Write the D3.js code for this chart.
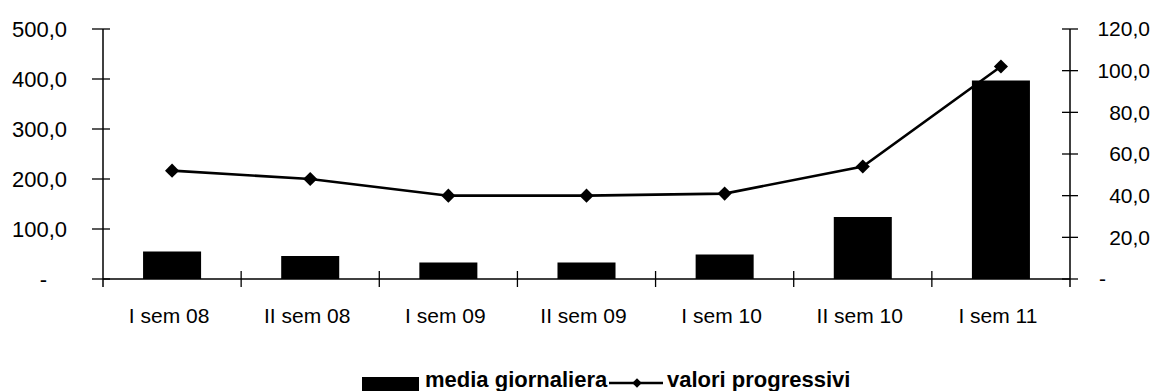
<!DOCTYPE html>
<html>
<head>
<meta charset="utf-8">
<script src="https://cdn.jsdelivr.net/npm/d3@7"></script>
<style>
  html, body { margin: 0; padding: 0; background: #fff; }
  svg { display: block; font-family: "Liberation Sans", Arial, sans-serif; }
</style>
</head>
<body>
<svg id="chart" width="1158" height="391"></svg>
<script>
const categories = ["I sem 08", "II sem 08", "I sem 09", "II sem 09", "I sem 10", "II sem 10", "I sem 11"];
const mediaGiornaliera = [55, 46, 33, 33, 49, 124, 397];
const valoriProgressivi = [52, 48, 40, 40, 41, 54, 102];
const leftTicks = [0, 100, 200, 300, 400, 500];
const rightTicks = [0, 20, 40, 60, 80, 100, 120];
const seriesNames = ["media giornaliera", "valori progressivi"];

const svg = d3.select("#chart");
const x0 = 103, x1 = 1070, yBase = 279, yTop = 29;

const fmt = v => v === 0 ? "-" : d3.format(".1f")(v).replace(".", ",");

const x = d3.scaleBand().domain(categories).range([x0, x1]).paddingInner(0.58).paddingOuter(0.29);
const yL = d3.scaleLinear().domain([0, 500]).range([yBase, yTop]);
const yR = d3.scaleLinear().domain([0, 120]).range([yBase, yTop]);

// bars
svg.append("g").selectAll("rect").data(mediaGiornaliera).join("rect")
  .attr("x", (d, i) => x(categories[i]))
  .attr("width", x.bandwidth())
  .attr("y", d => yL(d))
  .attr("height", d => yBase - yL(d))
  .attr("fill", "#000");

// x baseline
svg.append("line").attr("x1", x0).attr("x2", x1).attr("y1", yBase).attr("y2", yBase)
  .attr("stroke", "#000").attr("stroke-width", 1.3);

// category boundary ticks
const step = x.step();
const bounds = d3.range(categories.length + 1).map(i => x0 + i * step);
svg.append("g").selectAll("line").data(bounds.slice(1, -1)).join("line")
  .attr("x1", d => d).attr("x2", d => d).attr("y1", yBase - 8).attr("y2", yBase + 8)
  .attr("stroke", "#000").attr("stroke-width", 1.3);

// left axis
const gL = svg.append("g");
gL.append("line").attr("x1", x0).attr("x2", x0).attr("y1", yL(500)).attr("y2", yBase + 8)
  .attr("stroke", "#000").attr("stroke-width", 1.5);
gL.selectAll("line.t").data(leftTicks).join("line").attr("class", "t")
  .attr("x1", x0 - 11).attr("x2", x0 + 7).attr("y1", d => yL(d)).attr("y2", d => yL(d))
  .attr("stroke", "#000").attr("stroke-width", 1.3);
gL.selectAll("text").data(leftTicks).join("text")
  .attr("x", d => d === 0 ? 47 : 67).attr("y", d => yL(d))
  .attr("dy", "0.35em").attr("text-anchor", "end")
  .attr("font-size", 22).attr("fill", "#000")
  .text(fmt);

// right axis
const gR = svg.append("g");
gR.append("line").attr("x1", x1).attr("x2", x1).attr("y1", yR(120)).attr("y2", yBase + 8)
  .attr("stroke", "#000").attr("stroke-width", 1.5);
gR.selectAll("line.t").data(rightTicks).join("line").attr("class", "t")
  .attr("x1", x1 - 8).attr("x2", x1 + 8).attr("y1", d => yR(d)).attr("y2", d => yR(d))
  .attr("stroke", "#000").attr("stroke-width", 1.3);
gR.selectAll("text").data(rightTicks).join("text")
  .attr("x", d => d === 0 ? 1106 : 1150).attr("y", d => yR(d))
  .attr("dy", "0.35em").attr("text-anchor", "end")
  .attr("font-size", 21).attr("fill", "#000")
  .text(fmt);

// x labels
svg.append("g").selectAll("text").data(categories).join("text")
  .attr("x", d => x(d) + x.bandwidth() / 2 - 3).attr("y", 323)
  .attr("text-anchor", "middle").attr("font-size", 21).attr("fill", "#000")
  .text(d => d);

// line
const cx = (d, i) => x(categories[i]) + x.bandwidth() / 2;
const line = d3.line().x((d, i) => cx(d, i)).y(d => yR(d));
svg.append("path").datum(valoriProgressivi).attr("d", line)
  .attr("fill", "none").attr("stroke", "#000").attr("stroke-width", 2.6);
svg.append("g").selectAll("path").data(valoriProgressivi).join("path")
  .attr("transform", (d, i) => `translate(${cx(d, i)},${yR(d)}) rotate(45)`)
  .attr("d", d3.symbol().type(d3.symbolSquare).size(100))
  .attr("fill", "#000");

// legend
const lg = svg.append("g");
lg.append("rect").attr("x", 362).attr("y", 377).attr("width", 57).attr("height", 20).attr("fill", "#000");
lg.append("text").attr("x", 425).attr("y", 387).attr("font-size", 22).attr("font-weight", "bold")
  .attr("fill", "#000").text(seriesNames[0]);
lg.append("line").attr("x1", 609).attr("x2", 663).attr("y1", 383).attr("y2", 383)
  .attr("stroke", "#000").attr("stroke-width", 2.4);
lg.append("path").attr("transform", "translate(637,383) rotate(45)")
  .attr("d", d3.symbol().type(d3.symbolSquare).size(45)).attr("fill", "#000");
lg.append("text").attr("x", 667).attr("y", 387).attr("font-size", 22).attr("font-weight", "bold")
  .attr("fill", "#000").text(seriesNames[1]);
</script>
</body>
</html>
